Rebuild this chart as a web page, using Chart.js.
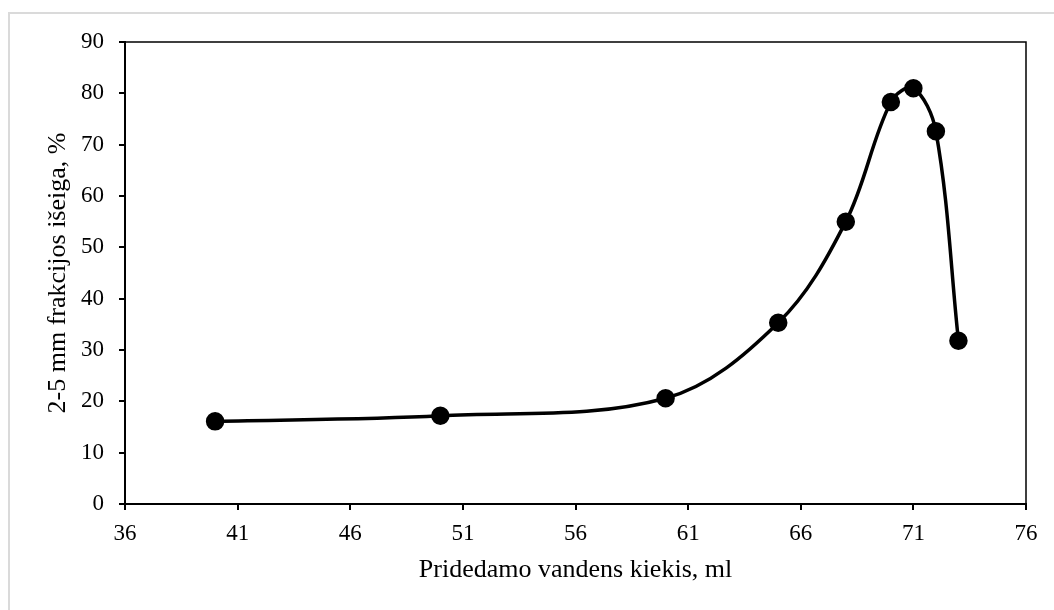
<!DOCTYPE html>
<html>
<head>
<meta charset="utf-8">
<script src="https://cdn.jsdelivr.net/npm/chart.js@4.4.1/dist/chart.umd.min.js"></script>
<style>
    html, body { margin: 0; padding: 0; background: #fff; }
    .wrap { position: relative; width: 1054px; height: 610px; overflow: hidden; }
    .frame { position: absolute; left: 8px; top: 12px; width: 1100px; height: 700px; border: 2px solid #dadada; pointer-events: none; }
    canvas { position: absolute; left: 0; top: 0; }
</style>
</head>
<body>
<div class="wrap">
    <canvas id="yieldChart" width="1054" height="610"></canvas>
    <div class="frame"></div>
</div>
<script>
// Duomenys nuskaityti nuo grafiko
const waterMl = [40, 50, 60, 65, 68, 70, 71, 72, 73];
const yieldPct = [16.1, 17.2, 20.6, 35.3, 55.0, 78.3, 81.0, 72.6, 31.8];

const xTicks = [36, 41, 46, 51, 56, 61, 66, 71, 76];
const yTicks = [0, 10, 20, 30, 40, 50, 60, 70, 80, 90];

const xTitle = 'Pridedamo vandens kiekis, ml';
const yTitle = '2-5 mm frakcijos išeiga, %';

const FONT = "'Liberation Serif', 'Times New Roman', serif";

// Plot area border (top + right), axes draw left + bottom
const frameBorder = {
    id: 'frameBorder',
    afterDraw(chart) {
        const { ctx, chartArea: a } = chart;
        ctx.save();
        ctx.strokeStyle = '#000';
        ctx.lineWidth = 1.5;
        ctx.beginPath();
        ctx.moveTo(a.left, a.top);
        ctx.lineTo(a.right, a.top);
        ctx.lineTo(a.right, a.bottom);
        ctx.stroke();
        ctx.restore();
    }
};

const ctx = document.getElementById('yieldChart').getContext('2d');

new Chart(ctx, {
    type: 'scatter',
    data: {
        datasets: [{
            data: waterMl.map((x, i) => ({ x: x, y: yieldPct[i] })),
            showLine: true,
            borderColor: '#000',
            borderWidth: 3.5,
            backgroundColor: '#000',
            pointRadius: 7.5,
            pointHoverRadius: 7.5,
            tension: 0.35
        }]
    },
    options: {
        responsive: false,
        animation: false,
        layout: { padding: { left: 0, top: 42, right: 28, bottom: 0 } },
        plugins: {
            legend: { display: false },
            tooltip: { enabled: false }
        },
        scales: {
            x: {
                type: 'linear',
                min: xTicks[0],
                max: xTicks[xTicks.length - 1],
                afterBuildTicks: (scale) => { scale.ticks = xTicks.map(v => ({ value: v })); },
                afterFit: (scale) => { scale.height = 106; },
                border: { color: '#000', width: 2 },
                grid: { drawOnChartArea: false, drawTicks: true, tickLength: 6, color: '#000', lineWidth: 2 },
                ticks: { color: '#000', padding: 10, font: { family: FONT, size: 23 } },
                title: {
                    display: true,
                    text: xTitle,
                    color: '#000',
                    font: { family: FONT, size: 26 },
                    padding: { top: 0, bottom: 24 }
                }
            },
            y: {
                type: 'linear',
                min: yTicks[0],
                max: yTicks[yTicks.length - 1],
                afterBuildTicks: (scale) => { scale.ticks = yTicks.map(v => ({ value: v })); },
                afterFit: (scale) => { scale.width = 125; },
                border: { color: '#000', width: 2 },
                grid: { drawOnChartArea: false, drawTicks: true, tickLength: 6, color: '#000', lineWidth: 2 },
                ticks: { color: '#000', padding: 15, font: { family: FONT, size: 23 } },
                title: {
                    display: true,
                    text: yTitle,
                    color: '#000',
                    font: { family: FONT, size: 26 },
                    padding: { top: 43, bottom: 0 }
                }
            }
        }
    },
    plugins: [frameBorder]
});
</script>
</body>
</html>
